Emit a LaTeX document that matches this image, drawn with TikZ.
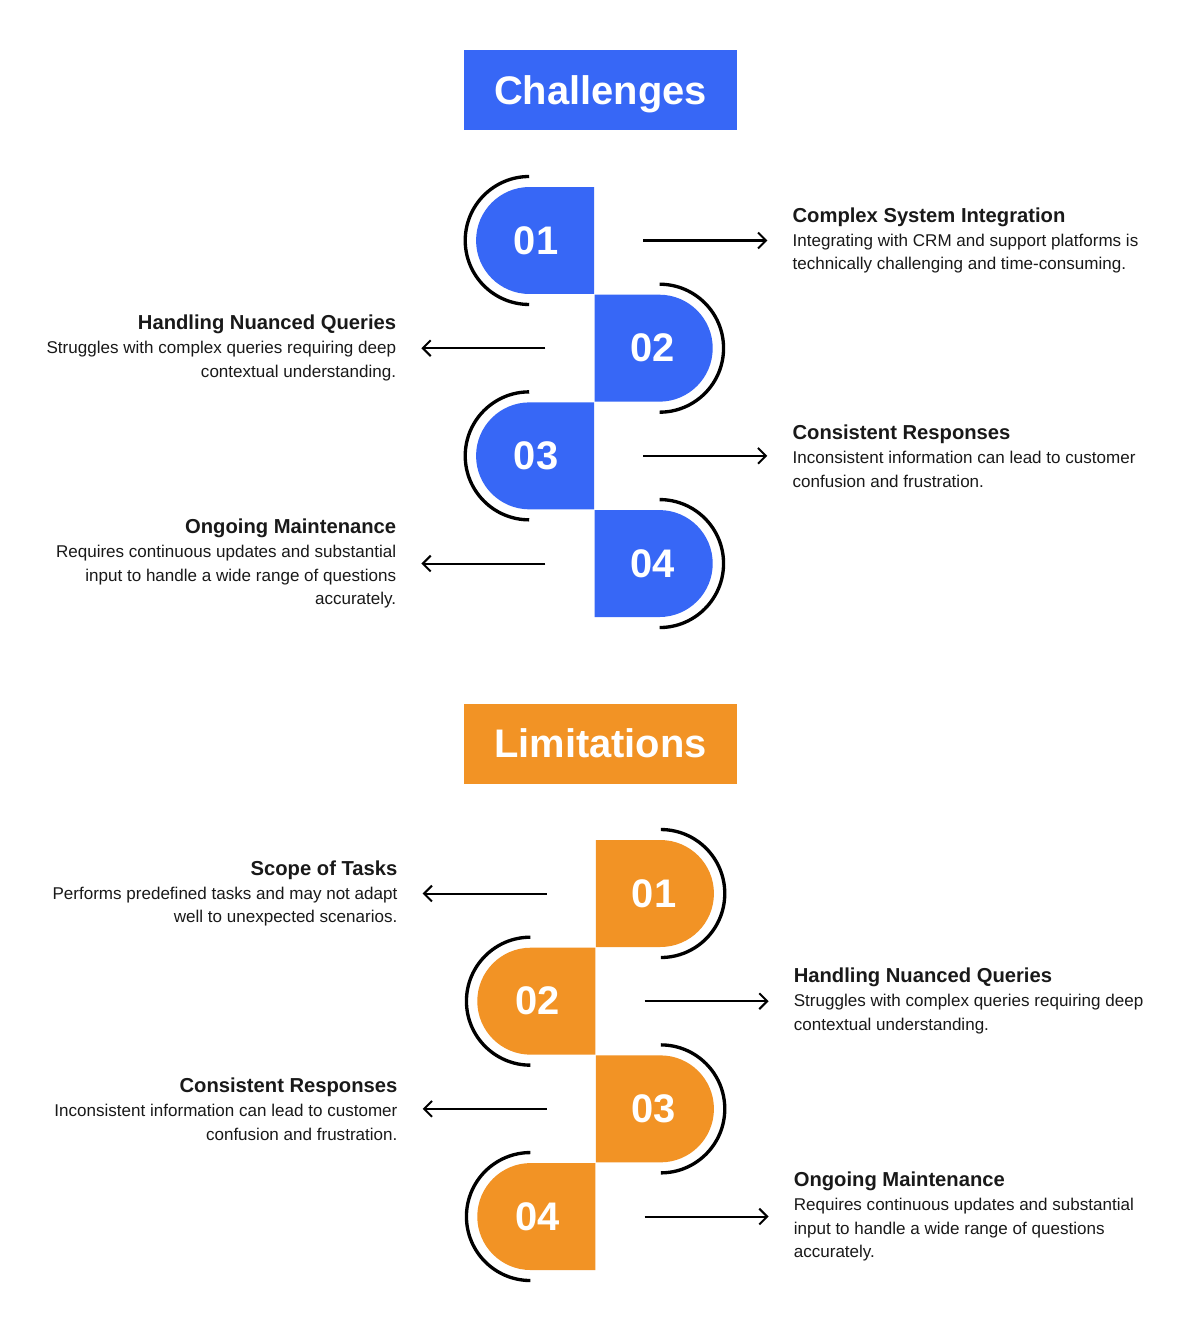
\documentclass[tikz,border=0pt]{standalone}
\usepackage{fontspec}
\setmainfont{Liberation Sans}
\usetikzlibrary{positioning, arrows.meta, shapes.misc, calc}

\definecolor{chblue}{HTML}{3767F6}
\definecolor{limorange}{HTML}{F29325}
\newcommand{\itemtitle}[1]{{\fontsize{11.5}{14}\selectfont\bfseries #1}}

\begin{document}
\begin{tikzpicture}[
    x=0.02cm, y=0.02cm,
    heading/.style={rectangle, minimum width=5.46cm, minimum height=1.6cm, inner sep=0pt, text height=16.3pt, text depth=0pt, text=white, font=\fontsize{22.7}{26}\selectfont\bfseries},
    tileL/.style={rounded rectangle, rounded rectangle east arc=none, minimum width=2.36cm, minimum height=2.14cm, inner sep=0pt, text=white, font=\fontsize{22.7}{26}\selectfont\bfseries},
    tileR/.style={tileL, rounded rectangle east arc=convex, rounded rectangle west arc=none},
    ring/.style={line width=1.9pt, black},
    desc/.style={inner xsep=14.17pt, inner ysep=0pt, font=\fontsize{9.7}{13.6}\selectfont, text=black!90},
    descR/.style={desc, align=left, anchor=west},
    descL/.style={desc, align=right, anchor=east},
    arrow/.style={-{Straight Barb[length=4.5pt, width=9pt]}, line width=1.15pt, black},
]

% Canvas
\fill[white] (0,0) rectangle (1200,-1339);
\useasboundingbox (0,0) rectangle (1200,-1339);

% ---------------- Challenges ----------------
\node[heading, fill=chblue] (chal) at (600.5,-90) {Challenges};

% Tiles
\node[tileL, fill=chblue] (c1) at (536,-240.5) {01};
\node[tileR, fill=chblue, anchor=north west] (c2) at (c1.south east) {02};
\node[tileL, fill=chblue, anchor=north east] (c3) at (c2.south west) {03};
\node[tileR, fill=chblue, anchor=north west] (c4) at (c3.south east) {04};

% Rings
\draw[ring] ($(c1.west)+(53.5,64)$) arc[start angle=90, end angle=270, radius=1.28cm];
\draw[ring] ($(c2.east)+(-53.5,-64)$) arc[start angle=-90, end angle=90, radius=1.28cm];
\draw[ring] ($(c3.west)+(53.5,64)$) arc[start angle=90, end angle=270, radius=1.28cm];
\draw[ring] ($(c4.east)+(-53.5,-64)$) arc[start angle=-90, end angle=90, radius=1.28cm];

% Descriptions
\node[descR, right=3.46cm of c1] (cd1) {\itemtitle{Complex System Integration}\\
    Integrating with CRM and support platforms is\\
    technically challenging and time-consuming.};
\node[descL, left=3.46cm of c2] (cd2) {\itemtitle{Handling Nuanced Queries}\\
    Struggles with complex queries requiring deep\\
    contextual understanding.};
\node[descR, right=3.46cm of c3] (cd3) {\itemtitle{Consistent Responses}\\
    Inconsistent information can lead to customer\\
    confusion and frustration.};
\node[descL, left=3.46cm of c4] (cd4) {\itemtitle{Ongoing Maintenance}\\
    Requires continuous updates and substantial\\
    input to handle a wide range of questions\\
    accurately.};

% Arrows
\coordinate[right=0.98cm of c1] (ca1);
\coordinate[left=0.98cm of c2] (ca2);
\coordinate[right=0.98cm of c3] (ca3);
\coordinate[left=0.98cm of c4] (ca4);
\draw[arrow] (ca1) -- (cd1.west);
\draw[arrow] (ca2) -- (cd2.east);
\draw[arrow] (ca3) -- (cd3.west);
\draw[arrow] (ca4) -- (cd4.east);

% ---------------- Limitations ----------------
\node[heading, fill=limorange] (lim) at (600.5,-743.5) {Limitations};

% Tiles
\node[tileR, fill=limorange] (l1) at (654,-893.5) {01};
\node[tileL, fill=limorange, anchor=north east] (l2) at (l1.south west) {02};
\node[tileR, fill=limorange, anchor=north west] (l3) at (l2.south east) {03};
\node[tileL, fill=limorange, anchor=north east] (l4) at (l3.south west) {04};

% Rings
\draw[ring] ($(l1.east)+(-53.5,-64)$) arc[start angle=-90, end angle=90, radius=1.28cm];
\draw[ring] ($(l2.west)+(53.5,64)$) arc[start angle=90, end angle=270, radius=1.28cm];
\draw[ring] ($(l3.east)+(-53.5,-64)$) arc[start angle=-90, end angle=90, radius=1.28cm];
\draw[ring] ($(l4.west)+(53.5,64)$) arc[start angle=90, end angle=270, radius=1.28cm];

% Descriptions
\node[descL, left=3.46cm of l1] (ld1) {\itemtitle{Scope of Tasks}\\
    Performs predefined tasks and may not adapt\\
    well to unexpected scenarios.};
\node[descR, right=3.46cm of l2] (ld2) {\itemtitle{Handling Nuanced Queries}\\
    Struggles with complex queries requiring deep\\
    contextual understanding.};
\node[descL, left=3.46cm of l3] (ld3) {\itemtitle{Consistent Responses}\\
    Inconsistent information can lead to customer\\
    confusion and frustration.};
\node[descR, right=3.46cm of l4] (ld4) {\itemtitle{Ongoing Maintenance}\\
    Requires continuous updates and substantial\\
    input to handle a wide range of questions\\
    accurately.};

% Arrows
\coordinate[left=0.98cm of l1] (la1);
\coordinate[right=0.98cm of l2] (la2);
\coordinate[left=0.98cm of l3] (la3);
\coordinate[right=0.98cm of l4] (la4);
\draw[arrow] (la1) -- (ld1.east);
\draw[arrow] (la2) -- (ld2.west);
\draw[arrow] (la3) -- (ld3.east);
\draw[arrow] (la4) -- (ld4.west);

\end{tikzpicture}
\end{document}
